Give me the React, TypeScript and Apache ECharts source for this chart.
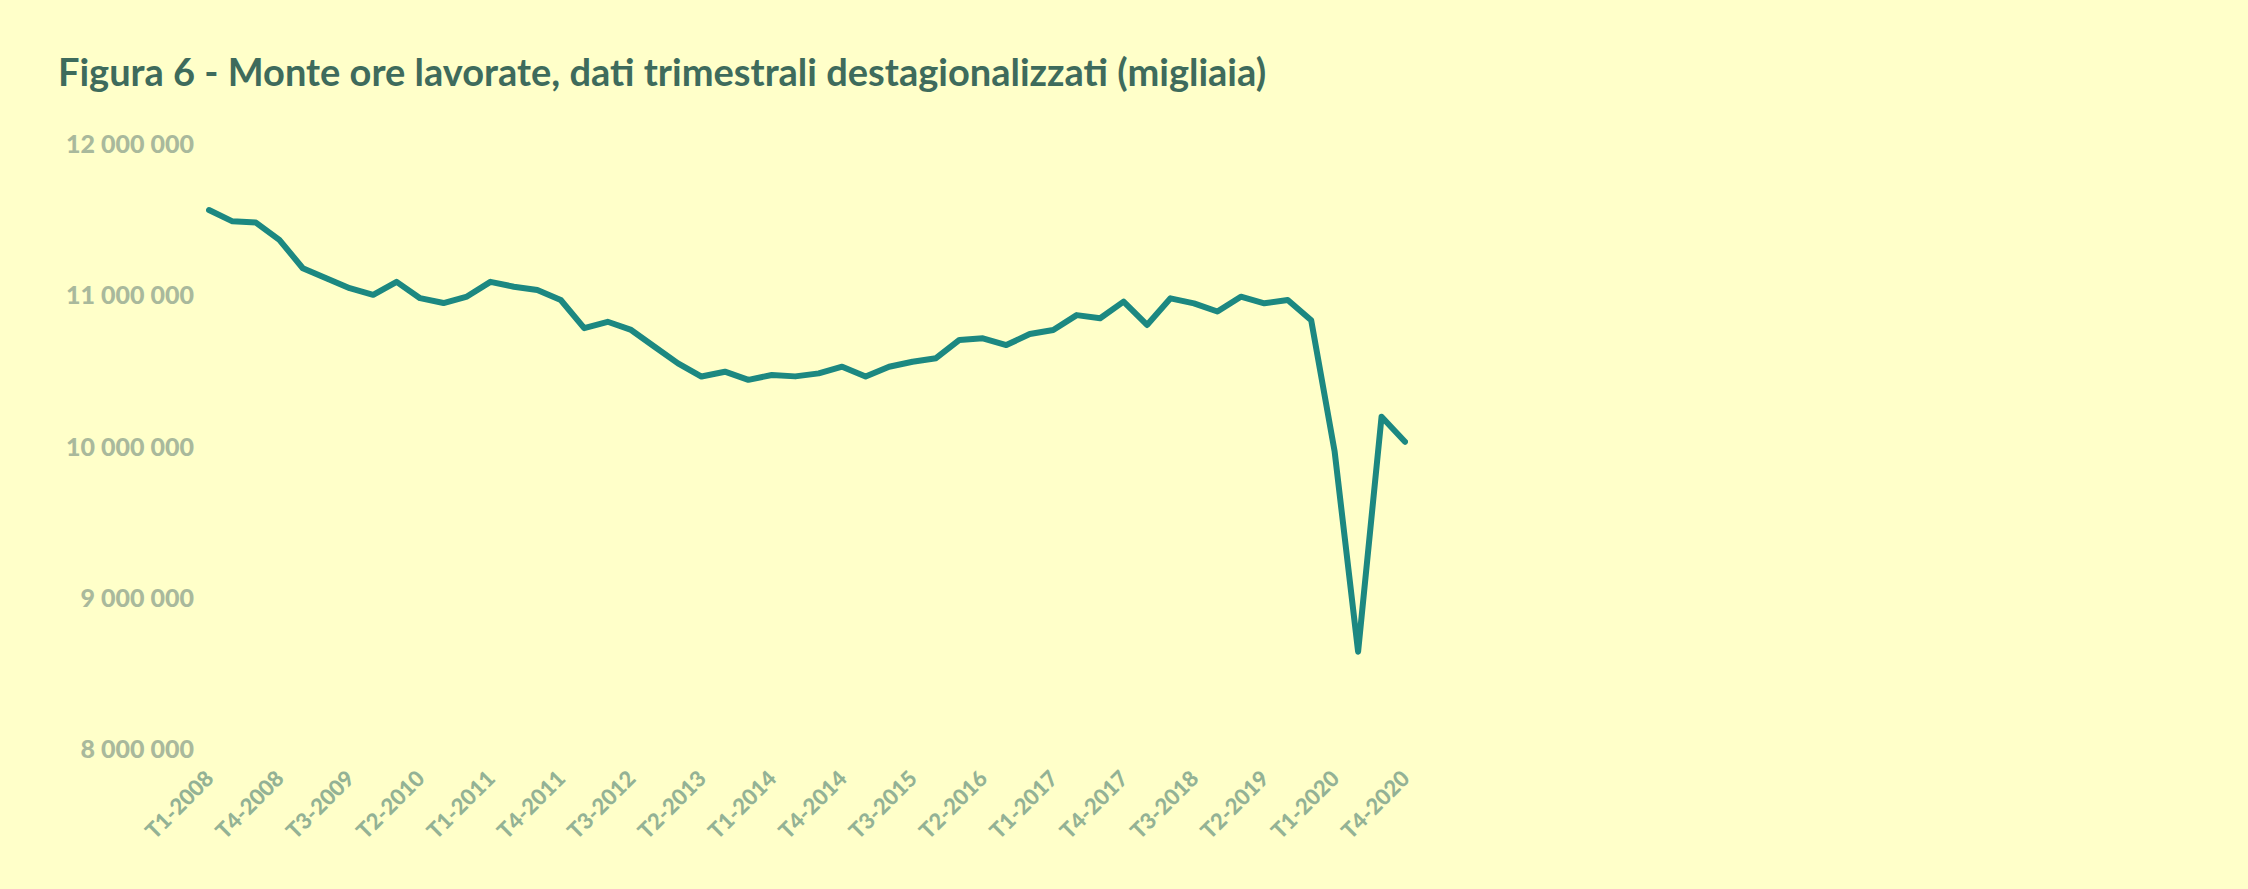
import React, { useEffect, useRef } from "react";
import * as echarts from "echarts";

const TITLE = "Figura 6 - Monte ore lavorate, dati trimestrali destagionalizzati (migliaia)";

const years = ["2008", "2009", "2010", "2011", "2012", "2013", "2014", "2015", "2016", "2017", "2018", "2019", "2020"];
const quarters = ["T1", "T2", "T3", "T4"];
const categories: string[] = [];
years.forEach((y) => quarters.forEach((q) => categories.push(q + "-" + y)));

// migliaia di ore
const hoursWorked = [
  11557000, 11482000, 11474000, 11360000, 11172000, 11106000, 11040000, 10996000,
  11082000, 10974000, 10942000, 10985000, 11082000, 11050000, 11028000, 10962000,
  10776000, 10818000, 10764000, 10653000, 10543000, 10456000, 10488000, 10434000,
  10466000, 10457000, 10477000, 10521000, 10456000, 10521000, 10554000, 10577000,
  10698000, 10709000, 10664000, 10737000, 10764000, 10862000, 10841000, 10951000,
  10797000, 10973000, 10940000, 10886000, 10984000, 10940000, 10962000, 10828000,
  9960000, 8637000, 10190000, 10025000,
];

const yTicks = { min: 8000000, max: 12000000, interval: 1000000 };

const fmt = (v: number) => String(Math.round(v)).replace(/\B(?=(\d{3})+(?!\d))/g, " ");

export default function App() {
  const ref = useRef<HTMLDivElement>(null);
  useEffect(() => {
    if (!ref.current) return;
    const chart = echarts.init(ref.current, undefined, { renderer: "svg" });
    chart.setOption({
      animation: false,
      backgroundColor: "#ffffc9",
      title: {
        text: TITLE,
        left: 53,
        top: 47,
        textStyle: {
          fontFamily: "Lato",
          fontWeight: "bold",
          fontSize: 38,
          color: "#3e6b5c",
        },
      },
      grid: { left: 209, right: 2248 - 1405, top: 143, bottom: 889 - 748, containLabel: false },
      xAxis: {
        type: "category",
        data: categories,
        boundaryGap: false,
        axisLine: { show: false },
        axisTick: { show: false },
        splitLine: { show: false },
        axisLabel: {
          interval: 2,
          rotate: 45,
          margin: 26,
          fontFamily: "Lato",
          fontWeight: "900",
          fontSize: 22,
          color: "#93b295",
        },
      },
      yAxis: {
        type: "value",
        min: yTicks.min,
        max: yTicks.max,
        interval: yTicks.interval,
        axisLine: { show: false },
        axisTick: { show: false },
        splitLine: { show: false },
        axisLabel: {
          margin: 15,
          fontFamily: "Lato",
          fontWeight: "900",
          fontSize: 25,
          color: "#a9b99c",
          formatter: (v: number) => fmt(v),
        },
      },
      series: [
        {
          type: "line",
          data: hoursWorked,
          showSymbol: false,
          symbol: "none",
          lineStyle: { color: "#1c8881", width: 6, cap: "round", join: "round" },
        },
      ],
    });
    return () => chart.dispose();
  }, []);
  return (
    <div
      ref={ref}
      style={{ position: "fixed", left: 0, top: 0, width: 2248, height: 889 }}
    />
  );
}
